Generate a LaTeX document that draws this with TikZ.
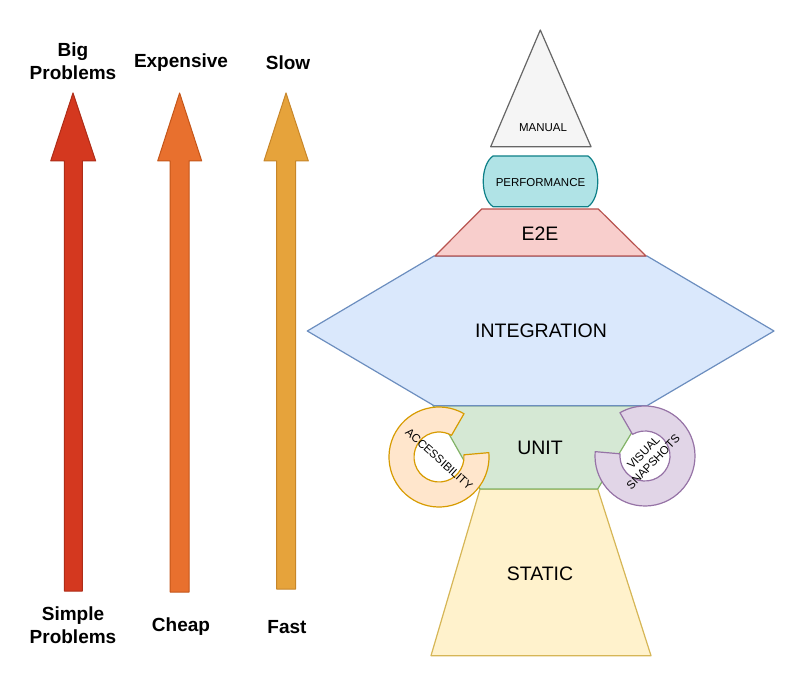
\documentclass[tikz,border=0pt]{standalone}
\usepackage{fontspec}
\setmainfont{Liberation Sans}
\usetikzlibrary{calc}

\definecolor{redF}{HTML}{D4381F}\definecolor{redD}{HTML}{AE2D18}
\definecolor{orgF}{HTML}{E8702E}\definecolor{orgD}{HTML}{C4561A}
\definecolor{yelF}{HTML}{E6A33B}\definecolor{yelD}{HTML}{C7862A}
\definecolor{manF}{HTML}{F5F5F5}\definecolor{manD}{HTML}{666666}
\definecolor{perF}{HTML}{B0E3E6}\definecolor{perD}{HTML}{0E8088}
\definecolor{eteF}{HTML}{F8CECC}\definecolor{eteD}{HTML}{B85450}
\definecolor{intF}{HTML}{DAE8FC}\definecolor{intD}{HTML}{6C8EBF}
\definecolor{uniF}{HTML}{D5E8D4}\definecolor{uniD}{HTML}{82B366}
\definecolor{staF}{HTML}{FFF2CC}\definecolor{staD}{HTML}{D6B656}
\definecolor{accF}{HTML}{FFE6CC}\definecolor{accD}{HTML}{D79B00}
\definecolor{visF}{HTML}{E1D5E7}\definecolor{visD}{HTML}{9673A6}

\begin{document}
\begin{tikzpicture}[x=1pt,y=1pt,line width=1.2pt,line join=round,
  lbl/.style={font=\bfseries\fontsize{19}{23}\selectfont,align=center},
  layer/.style={font=\fontsize{19.5}{22}\selectfont},
  tiny/.style={font=\fontsize{11.5}{13.5}\selectfont,align=center}]
  \useasboundingbox (0,0) rectangle (800,683);
  % --- scale arrows ---
  \draw[fill=redF,draw=redD,line width=1pt] (64.3,92) -- (64.3,522) -- (50.7,522) -- (73,590)
    -- (95.7,522) -- (82.3,522) -- (82.3,92) -- cycle;
  \draw[fill=orgF,draw=orgD,line width=1pt] (170,91) -- (170,522) -- (157.7,522) -- (179.6,590)
    -- (201.7,522) -- (189,522) -- (189,91) -- cycle;
  \draw[fill=yelF,draw=yelD,line width=1pt] (276.7,94) -- (276.7,522) -- (264,522) -- (286,590)
    -- (308.3,522) -- (295.7,522) -- (295.7,94) -- cycle;
  \node[lbl] (big) at (73,621.5) {Big\\Problems};
  \node[lbl] (expensive) at (181,620) {Expensive};
  \node[lbl] (slow) at (288,620) {Slow};
  \node[lbl] (simple) at (73,57.5) {Simple\\Problems};
  \node[lbl] (cheap) at (181,56) {Cheap};
  \node[lbl] (fast) at (287,56) {Fast};
  % --- testing shapes ---
  \draw[fill=staF,draw=staD] (480,194) -- (597.7,194) -- (651,27.3) -- (431,27.3) -- cycle;
  \node[layer] (static) at (540,109.7) {STATIC};
  \draw[fill=uniF,draw=uniD] (433,277.3) -- (648,277.3) -- (597.7,194) -- (480,194) -- cycle;
  \node[layer] (unit) at (540,235) {UNIT};
  \draw[fill=intF,draw=intD] (434,427) -- (647,427) -- (774,352) -- (647,277.3)
    -- (434,277.3) -- (307.3,352) -- cycle;
  \node[layer] (integration) at (541,352) {INTEGRATION};
  \draw[fill=eteF,draw=eteD] (481.7,474) -- (598.3,474) -- (646,427) -- (435,427) -- cycle;
  \node[layer] (e2e) at (540,449) {E2E};
  \draw[fill=perF,draw=perD] (493,527) -- (588,527) .. controls (601,518) and (601,485.3) .. (588,476.3)
    -- (493,476.3) .. controls (480,485.3) and (480,518) .. (493,527) -- cycle;
  \node[tiny] (performance) at (540.5,500.3) {PERFORMANCE};
  \draw[fill=manF,draw=manD] (540.3,653) -- (591,536.3) -- (490.7,536.3) -- cycle;
  \node[tiny] (manual) at (543,555.7) {MANUAL};
  % --- side rings ---
  \coordinate (A) at (439,226);
  \coordinate (V) at (645,227);
  \draw[fill=accF,draw=accD] ($(A)+(60:50)$) arc[start angle=60,end angle=365,radius=50]
    -- ($(A)+(5:25)$) arc[start angle=5,end angle=-300,radius=25] -- cycle;
  \node[tiny,rotate=-42] (access) at (439.2,223.8) {ACCESSIBILITY};
  \draw[fill=visF,draw=visD] ($(V)+(175:50)$) arc[start angle=175,end angle=480,radius=50]
    -- ($(V)+(120:25)$) arc[start angle=120,end angle=-185,radius=25] -- cycle;
  \node[tiny,rotate=46] (visual) at (648.3,225.9) {VISUAL\\SNAPSHOTS};
\end{tikzpicture}
\end{document}
